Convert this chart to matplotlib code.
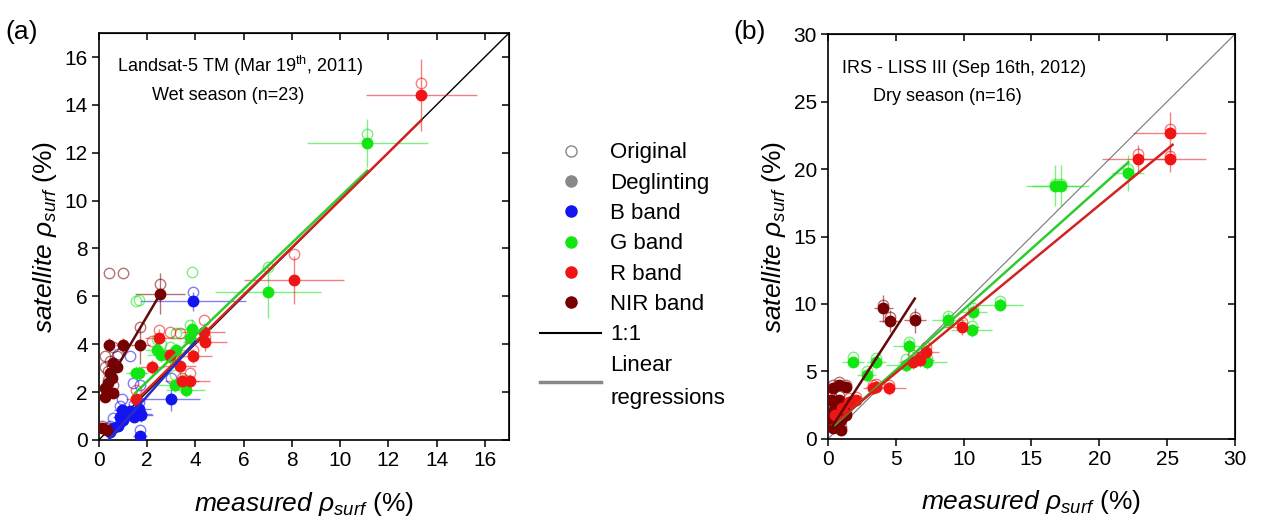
import numpy as np
import matplotlib.pyplot as plt
from matplotlib.lines import Line2D

plt.rcParams['font.family'] = ['Liberation Sans', 'DejaVu Sans']
plt.rcParams['mathtext.fontset'] = 'custom'
plt.rcParams['mathtext.rm'] = 'Liberation Sans'
plt.rcParams['mathtext.it'] = 'Liberation Sans:italic'

# ---- panel (a): Landsat-5 TM, wet season ----
a_b_x = [0.45, 0.6, 0.9, 0.95, 1.0, 1.4, 1.45, 1.65, 1.7, 1.72, 1.75, 3.0, 3.9, 1.3, 0.8]
a_b_deg = [0.35, 0.5, 0.95, 1.25, 0.85, 1.1, 0.95, 1.3, 1.1, 0.15, 1.05, 1.7, 5.8, 1.2, 0.6]
a_b_org = [0.6, 0.9, 1.4, 1.7, 1.2, 2.4, 1.5, 1.6, 2.3, 0.4, 1.1, 2.6, 6.2, 3.5, 3.6]
a_b_xerr = [0.2, 0.2, 0.3, 0.3, 0.3, 0.4, 0.4, 0.5, 0.5, 0.3, 0.5, 1.2, 2.2, 0.4, 0.3]
a_b_yerr = [0.1, 0.1, 0.2, 0.2, 0.2, 0.2, 0.2, 0.3, 0.3, 0.1, 0.3, 0.5, 0.4, 0.2, 0.1]

a_g_x = [1.55, 1.65, 2.4, 2.6, 2.95, 3.2, 3.15, 3.6, 3.8, 3.85, 7.0, 11.13]
a_g_deg = [2.8, 2.8, 3.75, 3.55, 3.45, 3.75, 2.3, 2.1, 4.25, 4.65, 6.18, 12.39]
a_g_org = [5.8, 5.85, 4.2, 4.0, 3.9, 4.45, 2.7, 2.5, 4.8, 7.0, 7.22, 12.8]
a_g_xerr = [0.4, 0.4, 0.5, 0.6, 0.6, 0.7, 0.7, 0.8, 0.8, 0.8, 2.2, 2.5]
a_g_yerr = [0.3, 0.3, 0.3, 0.3, 0.3, 0.3, 0.3, 0.3, 0.4, 0.4, 1.1, 1.0]

a_r_x = [1.55, 2.2, 2.5, 2.95, 3.35, 3.45, 3.8, 3.9, 4.35, 4.4, 8.09, 13.36]
a_r_deg = [1.7, 3.05, 4.25, 3.55, 3.1, 2.45, 2.45, 3.5, 4.5, 4.1, 6.7, 14.4]
a_r_org = [2.1, 4.15, 4.6, 4.5, 4.45, 2.6, 2.8, 3.75, 5.0, 4.3, 7.78, 14.9]
a_r_xerr = [0.4, 0.5, 0.6, 0.6, 0.7, 0.7, 0.8, 0.8, 0.9, 0.9, 2.07, 2.3]
a_r_yerr = [0.3, 0.3, 0.4, 0.3, 0.3, 0.3, 0.3, 0.3, 0.4, 0.4, 1.0, 1.5]

a_n_x = [0.12, 0.33, 0.26, 0.26, 0.4, 0.4, 0.47, 0.54, 0.6, 0.74, 0.6, 0.42, 1.02, 1.73, 2.54]
a_n_deg = [0.49, 0.42, 1.8, 2.15, 1.95, 2.36, 2.78, 2.57, 3.2, 3.05, 1.95, 3.96, 3.96, 3.96, 6.11]
a_n_org = [0.6, 0.5, 3.5, 3.05, 2.5, 2.9, 3.3, 3.1, 3.9, 3.5, 2.3, 6.98, 6.98, 4.7, 6.5]
a_n_xerr = [0.1, 0.1, 0.1, 0.1, 0.1, 0.1, 0.1, 0.1, 0.1, 0.1, 0.1, 0.2, 0.3, 0.4, 1.05]
a_n_yerr = [0.1, 0.1, 0.2, 0.2, 0.2, 0.2, 0.2, 0.2, 0.2, 0.2, 0.2, 0.3, 0.3, 0.8, 0.85]

# regression end points (x0, x1, y0, y1)
a_fit_b = [0.4, 4.0, 0.0, 4.1]
a_fit_g = [1.5, 11.13, 1.95, 11.25]
a_fit_r = [1.5, 13.36, 1.6, 13.35]
a_fit_n = [0.2, 2.55, 2.1, 6.1]

# ---- panel (b): IRS LISS III, dry season ----
b_g_x = [1.85, 2.85, 3.55, 5.75, 6.0, 7.27, 8.87, 10.6, 10.7, 12.67, 16.73, 17.17, 22.13]
b_g_deg = [5.7, 4.72, 5.7, 5.46, 6.86, 5.7, 8.83, 8.04, 9.39, 9.96, 18.78, 18.78, 19.71]
b_g_org = [6.07, 5.0, 6.0, 5.9, 7.2, 6.0, 9.1, 8.4, 9.7, 10.2, 18.9, 18.9, 20.0]
b_g_xerr = [0.8, 0.7, 0.7, 1.5, 1.2, 1.5, 1.2, 1.5, 1.0, 1.7, 2.1, 2.1, 1.2]
b_g_yerr = [0.4, 0.5, 0.5, 0.5, 0.6, 0.5, 0.6, 0.5, 0.6, 0.5, 1.5, 1.5, 1.3]

b_r_x = [0.5, 1.0, 1.57, 2.06, 3.29, 3.54, 4.52, 6.24, 6.78, 7.22, 9.85, 22.87, 25.2, 25.2]
b_r_deg = [1.8, 2.3, 2.75, 2.88, 3.74, 3.86, 3.74, 5.7, 5.83, 6.44, 8.28, 20.77, 20.77, 22.7]
b_r_org = [2.0, 2.6, 3.0, 3.1, 4.0, 4.1, 4.0, 6.2, 6.1, 6.8, 8.7, 21.1, 21.0, 23.0]
b_r_xerr = [0.3, 0.3, 0.5, 0.5, 0.7, 0.7, 1.2, 1.0, 1.0, 1.0, 1.3, 2.7, 2.7, 2.7]
b_r_yerr = [0.3, 0.3, 0.4, 0.4, 0.4, 0.4, 0.5, 0.5, 0.5, 0.6, 0.6, 1.0, 1.0, 1.5]

b_n_x = [0.22, 0.35, 0.83, 1.33, 0.22, 0.83, 0.46, 1.2, 0.22, 0.96, 1.33, 0.35, 0.96, 4.08, 4.57, 6.41]
b_n_deg = [2.9, 3.74, 3.98, 3.86, 2.88, 2.88, 2.14, 2.14, 1.53, 1.4, 1.77, 0.79, 0.66, 9.68, 8.73, 8.78]
b_n_org = [3.2, 4.0, 4.2, 4.0, 3.1, 3.2, 2.5, 2.4, 1.9, 1.8, 2.0, 1.0, 0.9, 9.95, 9.0, 9.0]
b_n_xerr = [0.2] * 13 + [0.7, 0.8, 0.8]
b_n_yerr = [0.3] * 13 + [1.0, 0.8, 0.9]

b_fit_g = [0.5, 22.13, 1.05, 20.5]
b_fit_r = [0.3, 25.4, 1.0, 21.8]
b_fit_n = [0.3, 6.4, 0.9, 10.4]

C_B, C_G, C_R, C_N = '#1414f0', '#12e612', '#f01414', '#780000'
L_B, L_G, L_R, L_N = '#2a2acc', '#2ccc2c', '#d42222', '#640808'


def draw_band(ax, x, deg, org, xerr, yerr, col):
    ax.errorbar(x, deg, xerr=xerr, yerr=yerr, fmt='none', ecolor=col,
                alpha=0.55, elinewidth=1.0, capsize=0, zorder=2)
    ax.plot(x, org, 'o', mfc='none', mec=col, mew=1.0, ms=7.5, alpha=0.55, zorder=3)
    ax.plot(x, deg, 'o', color=col, ms=7.5, zorder=4)


def draw_fit(ax, fit, col):
    ax.plot(fit[:2], fit[2:], color=col, lw=1.8, zorder=5)


def style_axes(ax, lim, step):
    ax.set_xlim(0, lim)
    ax.set_ylim(0, lim)
    ticks = np.arange(0, lim + 0.1, step)
    ax.set_xticks(ticks)
    ax.set_yticks(ticks)
    ax.tick_params(direction='out', length=5, width=1.1, labelsize=15, pad=3)
    for s in ax.spines.values():
        s.set_linewidth(1.2)
    top = ax.secondary_xaxis('top')
    top.set_xticks(ticks)
    top.tick_params(direction='in', length=5, width=1.1, labeltop=False)
    right = ax.secondary_yaxis('right')
    right.set_yticks(ticks)
    right.tick_params(direction='in', length=5, width=1.1, labelright=False)
    ax.set_xlabel(r'$\it{measured}\ \rho_{surf}$ (%)', fontsize=19, labelpad=14)
    ax.set_ylabel(r'$\it{satellite}\ \rho_{surf}$ (%)', fontsize=19, labelpad=4)


fig = plt.figure(figsize=(12.66, 5.25), dpi=100)
ax1 = fig.add_axes([0.078, 0.162, 0.324, 0.775])
ax2 = fig.add_axes([0.654, 0.164, 0.3215, 0.771])

# panel a
ax1.plot([0, 17], [0, 17], color='black', lw=1.0, zorder=1)
draw_band(ax1, a_b_x, a_b_deg, a_b_org, a_b_xerr, a_b_yerr, C_B)
draw_band(ax1, a_n_x, a_n_deg, a_n_org, a_n_xerr, a_n_yerr, C_N)
draw_band(ax1, a_g_x, a_g_deg, a_g_org, a_g_xerr, a_g_yerr, C_G)
draw_band(ax1, a_r_x, a_r_deg, a_r_org, a_r_xerr, a_r_yerr, C_R)
draw_fit(ax1, a_fit_g, L_G)
draw_fit(ax1, a_fit_r, L_R)
draw_fit(ax1, a_fit_b, L_B)
draw_fit(ax1, a_fit_n, L_N)
style_axes(ax1, 17, 2)
ax1.text(0.045, 0.905, r'Landsat-5 TM (Mar 19$^{\rm th}$, 2011)', transform=ax1.transAxes, fontsize=13)
ax1.text(0.13, 0.835, 'Wet season (n=23)', transform=ax1.transAxes, fontsize=13)

# panel b
ax2.plot([0, 30], [0, 30], color='#777777', lw=0.8, zorder=1)
draw_band(ax2, b_n_x, b_n_deg, b_n_org, b_n_xerr, b_n_yerr, C_N)
draw_band(ax2, b_g_x, b_g_deg, b_g_org, b_g_xerr, b_g_yerr, C_G)
draw_band(ax2, b_r_x, b_r_deg, b_r_org, b_r_xerr, b_r_yerr, C_R)
draw_fit(ax2, b_fit_g, L_G)
draw_fit(ax2, b_fit_r, L_R)
draw_fit(ax2, b_fit_n, L_N)
style_axes(ax2, 30, 5)
ax2.text(0.035, 0.905, 'IRS - LISS III (Sep 16th, 2012)', transform=ax2.transAxes, fontsize=13)
ax2.text(0.11, 0.835, 'Dry season (n=16)', transform=ax2.transAxes, fontsize=13)

fig.text(0.004, 0.925, '(a)', fontsize=19)
fig.text(0.579, 0.925, '(b)', fontsize=19)

# legend
handles = [
    Line2D([], [], ls='none', marker='o', mfc='none', mec='#888888', ms=8),
    Line2D([], [], ls='none', marker='o', color='#888888', ms=8),
    Line2D([], [], ls='none', marker='o', color=C_B, ms=8),
    Line2D([], [], ls='none', marker='o', color=C_G, ms=8),
    Line2D([], [], ls='none', marker='o', color=C_R, ms=8),
    Line2D([], [], ls='none', marker='o', color=C_N, ms=8),
    Line2D([], [], color='black', lw=1.5),
    Line2D([], [], color='#888888', lw=2.5),
]
labels = ['Original', 'Deglinting', 'B band', 'G band', 'R band', 'NIR band', '1:1',
          'Linear\nregressions']
leg = fig.legend(handles, labels, loc='upper left', bbox_to_anchor=(0.418, 0.75),
                 frameon=False, fontsize=16, handlelength=2.75, handletextpad=0.4,
                 labelspacing=0.42, borderpad=0)
leg.get_texts()[-1].set_linespacing(1.75)

fig.savefig('out.png', dpi=100)
